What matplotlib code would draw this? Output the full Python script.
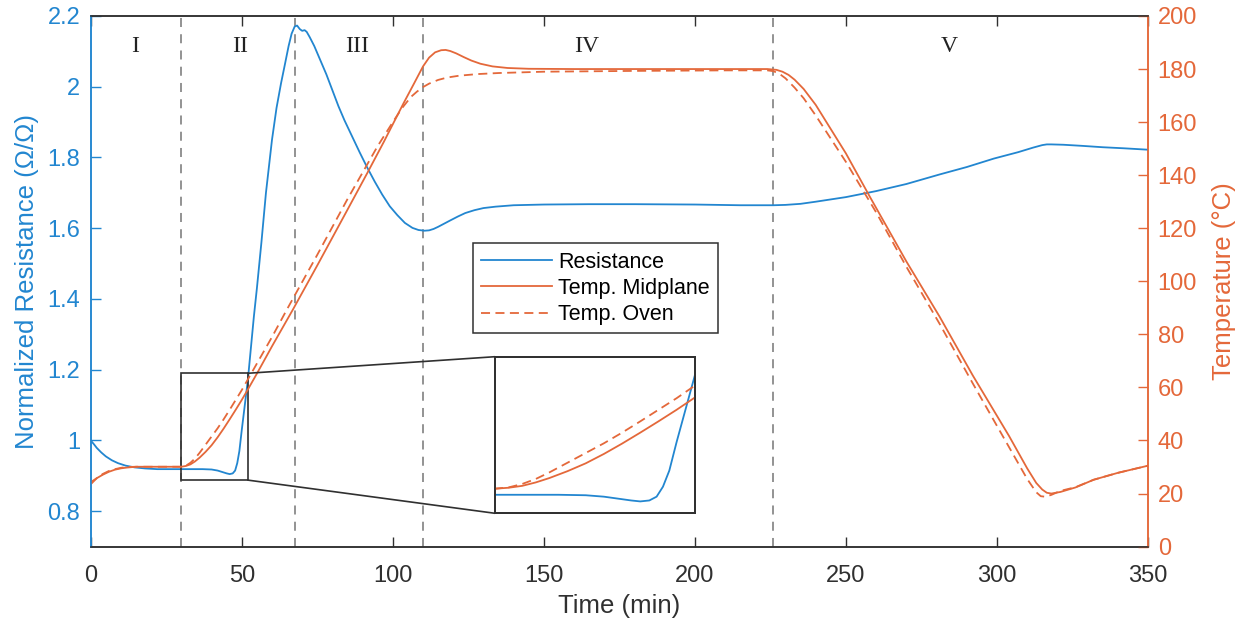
import matplotlib
matplotlib.use('Agg')
import matplotlib.pyplot as plt
from matplotlib.patches import Rectangle, ConnectionPatch
from matplotlib.lines import Line2D

plt.rcParams['font.family'] = ['Liberation Sans', 'DejaVu Sans']

# resistance (normalized) vs time
res_time = [0, 1, 2, 3.5, 5, 7, 9, 11.5, 14.5, 18, 22, 27, 32, 37, 40, 42, 43.5, 45, 46, 47,
            47.8, 48.5, 49.2, 50, 51, 52, 53, 54, 55, 56.5, 58, 60, 61.5, 63, 64.2, 65.5, 66.5,
            67.5, 68.3, 69.2, 70, 70.8, 71.5, 72.5, 74, 76, 78, 80, 82, 84, 86.5, 89, 91.5, 94,
            96.5, 99, 101.5, 104, 106.5, 108.5, 110.5, 112, 113.5, 115, 117, 119, 121.5, 124,
            127, 130, 134, 140, 150, 165, 180, 200, 215, 226, 230, 235, 240, 250, 260, 270,
            281, 290, 299, 307, 312, 315, 316.5, 318, 322, 328, 335, 342, 350]
res_vals = [1.0, 0.99, 0.979, 0.966, 0.955, 0.944, 0.936, 0.929, 0.924, 0.921, 0.919, 0.919,
            0.919, 0.919, 0.918, 0.915, 0.911, 0.907, 0.905, 0.907, 0.915, 0.936, 0.97, 1.03,
            1.1, 1.17, 1.26, 1.35, 1.43, 1.56, 1.7, 1.85, 1.94, 2.01, 2.06, 2.115, 2.15, 2.17,
            2.173, 2.163, 2.158, 2.16, 2.155, 2.14, 2.115, 2.075, 2.035, 1.99, 1.945, 1.905,
            1.86, 1.815, 1.772, 1.732, 1.695, 1.662, 1.637, 1.615, 1.601, 1.595, 1.593, 1.594,
            1.598, 1.604, 1.613, 1.622, 1.633, 1.643, 1.651, 1.657, 1.661, 1.665, 1.667,
            1.668, 1.668, 1.667, 1.665, 1.665, 1.666, 1.669, 1.675, 1.688, 1.705, 1.725,
            1.752, 1.773, 1.797, 1.815, 1.828, 1.835, 1.837, 1.837, 1.836, 1.833, 1.829,
            1.826, 1.822]

# midplane temperature
mid_time = [0, 2, 4, 6, 8, 10, 12, 15, 20, 25, 30, 31.5, 33, 34.5, 36, 38, 40, 42, 44, 46, 48,
            50, 52, 55, 60, 67, 75, 85, 91.5, 97, 103.5, 107, 110, 112, 114, 116, 117.5, 119,
            121, 123.5, 126, 129, 133, 138, 145, 160, 200, 224, 227, 229, 231, 233, 236, 240,
            250, 258, 270, 281, 292, 304, 310, 313, 315, 316.5, 318, 321, 326, 332, 340, 350]
mid_temp = [24.3, 25.8, 27.1, 28.2, 29.0, 29.5, 29.8, 30.1, 30.1, 30.1, 30.1, 30.4, 31.0, 32.1,
            33.5, 35.7, 38.2, 41.2, 44.5, 48.0, 51.6, 55.3, 59.2, 65.2, 75.5, 89.5, 106, 127,
            140.7, 152.5, 167, 174.5, 181, 184.3, 186.3, 187.1, 187.2, 186.8, 185.9, 184.5,
            183.2, 182.0, 181.0, 180.4, 180.1, 180, 180, 180, 179.7, 179, 177.8, 176, 172.5,
            166.5, 148.2, 131.7, 107.5, 86.7, 64.5, 41.7, 29.5, 24.0, 21.5, 20.3, 20.0, 20.6,
            22.3, 25.2, 27.8, 30.5]

# oven temperature
oven_time = [0, 2, 4, 6, 8, 10, 12, 15, 20, 25, 30, 31.5, 33, 34.5, 36, 38, 40, 42, 44, 46, 48,
             50, 52, 55, 60, 65, 75, 85, 90, 95, 100, 103, 106, 108, 110, 112, 115, 118, 122,
             128, 135, 150, 180, 210, 224, 226, 228, 230, 233, 236, 240, 250, 260, 270, 281,
             292, 304, 310, 313, 314.5, 316, 318, 321, 326, 332, 340, 350]
oven_temp = [23.5, 25.8, 27.4, 28.5, 29.2, 29.7, 30.0, 30.1, 30.1, 30.1, 30.1, 30.5, 31.6, 33.2,
             35.3, 38.4, 41.5, 44.6, 48.0, 51.6, 55.3, 59.0, 63.0, 69.0, 79.0, 89.5, 110, 131,
             141, 151, 160, 165.2, 169.5, 171.5, 173.2, 174.5, 175.9, 176.8, 177.5, 178.1,
             178.5, 179, 179.3, 179.5, 179.5, 179.2, 178.2, 176.5, 173, 169, 162.5, 145, 126,
             105.5, 84, 61.5, 37.5, 25.5, 20.5, 19.0, 18.8, 19.5, 21.0, 22.4, 25.2, 27.8, 30.5]

stage_bounds = [30, 67.5, 110, 226]
stage_names = ['I', 'II', 'III', 'IV', 'V']
stage_mid = [14.7, 49.6, 88.2, 164.3, 284.3]

blue = '#2286d0'
orange = '#e4683a'
dark = '#303030'

fig = plt.figure(figsize=(12.38, 6.22), dpi=100)
ax = fig.add_axes([0.0733, 0.1212, 0.854, 0.8531])
ax2 = ax.twinx()

# stage boundaries
for b in stage_bounds:
    ax.axvline(b, color='#8a8a8a', ls=(0, (5, 4)), lw=1.3, zorder=1)
for name, xm in zip(stage_names, stage_mid):
    ax.text(xm, 2.115, name, ha='center', va='center', fontsize=17,
            family='Liberation Serif', color='#222222')

ax.plot(res_time, res_vals, color=blue, lw=1.3, zorder=3)
ax2.plot(mid_time, mid_temp, color=orange, lw=1.3)
ax2.plot(oven_time, oven_temp, color=orange, lw=1.3, ls=(0, (5, 3)))

ax.set_xlim(0, 350)
ax.set_ylim(0.7, 2.2)
ax2.set_ylim(0, 200)
ax.set_xticks(range(0, 351, 50))
ax.set_yticks([0.8, 1.0, 1.2, 1.4, 1.6, 1.8, 2.0, 2.2])
ax.set_yticklabels(['0.8', '1', '1.2', '1.4', '1.6', '1.8', '2', '2.2'])
ax2.set_yticks(range(0, 201, 20))

ax.tick_params(axis='x', direction='in', length=7.5, width=1, colors=dark, labelsize=17,
               top=True, pad=13)
ax.tick_params(axis='y', direction='in', length=7.5, width=1, colors=blue, labelsize=17, pad=7.5)
ax2.tick_params(axis='y', direction='in', length=7.5, width=1, colors=orange, labelsize=17,
                pad=7)

for a in (ax, ax2):
    a.spines['top'].set_color(dark)
    a.spines['bottom'].set_color(dark)
    a.spines['left'].set_color(blue)
    a.spines['right'].set_color(orange)
    for s in a.spines.values():
        s.set_linewidth(1.1)

ax.set_xlabel('Time (min)', fontsize=18.5, color=dark, labelpad=5)
ax.set_ylabel('Normalized Resistance (\u03a9/\u03a9)', fontsize=18.5, color=blue, labelpad=6)
ax2.set_ylabel('Temperature (\u00b0C)', fontsize=18.5, color=orange, labelpad=11)

# zoom rectangle
rx0, rx1, ry0, ry1 = 30, 52, 0.888, 1.19
ax.add_patch(Rectangle((rx0, ry0), rx1 - rx0, ry1 - ry0, fill=False,
                       edgecolor=dark, lw=1.2, zorder=4))

# inset
ins = fig.add_axes([0.3997, 0.1748, 0.1615, 0.2517])
ins2 = ins.twinx()
ins.plot(res_time, res_vals, color=blue, lw=1.3)
ins2.plot(mid_time, mid_temp, color=orange, lw=1.3)
ins2.plot(oven_time, oven_temp, color=orange, lw=1.3, ls=(0, (5, 3)))
ins.set_xlim(rx0, rx1)
ins.set_ylim(0.88, 1.21)
ins2.set_ylim(22.25, 72.25)
for a in (ins, ins2):
    a.set_xticks([])
    a.set_yticks([])
    for s in a.spines.values():
        s.set_color(dark)
        s.set_linewidth(1.3)

for ya, yb in ((ry1, 1), (ry0, 0)):
    con = ConnectionPatch(xyA=(rx1, ya), coordsA=ax.transData, xyB=(0, yb),
                          coordsB=ins.transAxes, color=dark, lw=1.2)
    fig.add_artist(con)

handles = [Line2D([], [], color=blue, lw=1.3),
           Line2D([], [], color=orange, lw=1.3),
           Line2D([], [], color=orange, lw=1.3, ls=(0, (5, 3)))]
leg = fig.legend(handles, ['Resistance', 'Temp. Midplane', 'Temp. Oven'],
                 loc='upper left', bbox_to_anchor=(0.3818, 0.6088), fontsize=15.5,
                 frameon=True, fancybox=False, framealpha=1, edgecolor=dark,
                 handlelength=3.3, handletextpad=0.3, labelspacing=0.25,
                 borderpad=0.38, borderaxespad=0)
leg.get_frame().set_linewidth(1.1)

fig.savefig('out.png', dpi=100)
